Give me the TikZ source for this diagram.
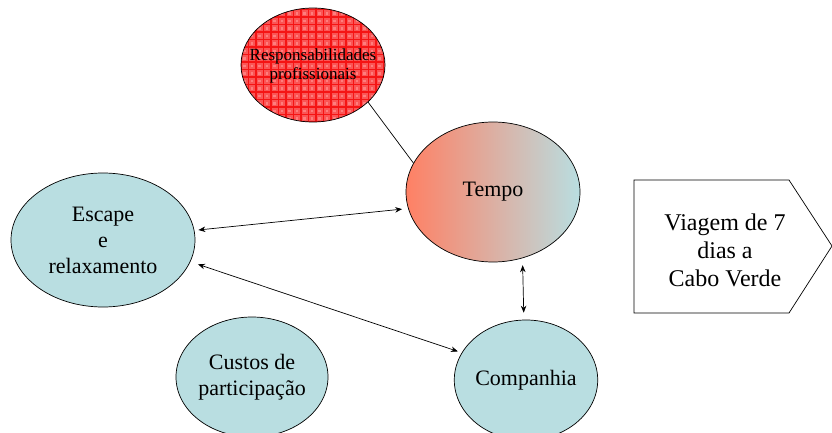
\documentclass[tikz,border=0pt]{standalone}
\usepackage{fontspec}
\setmainfont{Liberation Serif}
\usetikzlibrary{shapes.geometric,arrows.meta}
\definecolor{lblue}{RGB}{185,222,225}
\definecolor{salmon}{RGB}{255,128,100}
\definecolor{rbase}{RGB}{250,85,85}
\definecolor{rpink}{RGB}{255,125,125}
\definecolor{rline}{RGB}{245,20,20}
\begin{document}
\begin{tikzpicture}[x=1pt,y=-1pt,
  oval/.style={ellipse,draw=black,line width=0.7pt,inner sep=0pt,align=center,
    font=\fontsize{22}{26}\selectfont},
  conn/.style={line width=0.7pt,{Stealth[length=7pt,width=5.5pt]}-{Stealth[length=7pt,width=5.5pt]}},
  plainline/.style={line width=0.7pt}]
\useasboundingbox (0,0) rectangle (832,433);
\node[oval,minimum width=144pt,minimum height=114pt,fill=rbase,
  font=\fontsize{17}{19}\selectfont,
  path picture={
    \foreach \i in {0,...,21}{
      \foreach \j in {0,...,17}{
        \fill[rpink] ([xshift=\i*7.5pt+2pt,yshift=\j*7.5pt+2pt]path picture bounding box.south west) rectangle ++(2.5pt,2.5pt);
      }
    }
    \foreach \i in {0,...,21}{
      \draw[rline,line width=1.2pt] ([xshift=\i*7.5pt]path picture bounding box.south west) -- ++(0pt,130pt);
    }
    \foreach \j in {0,...,17}{
      \draw[rline,line width=1.2pt] ([yshift=\j*7.5pt]path picture bounding box.south west) -- ++(160pt,0pt);
    }
  }] (resp) at (313,65) {};
\node[align=center,font=\fontsize{17}{19}\selectfont,inner sep=0pt] (resptext) at (313,66) {Responsabilidades\\profissionais};
\node[oval,minimum width=174pt,minimum height=140pt,left color=salmon,right color=lblue] (tempo) at (493,192) {Tempo};
\node[oval,minimum width=184pt,minimum height=134pt,fill=lblue] (escape) at (103,240) {Escape\\e\\relaxamento};
\node[oval,minimum width=144pt,minimum height=120pt,fill=lblue] (custos) at (252,377) {Custos de\\participação};
\node[oval,minimum width=138pt,minimum height=120pt,fill=lblue] (companhia) at (526,380) {Companhia};
\draw[line width=0.7pt] (634,180) -- (789,180) -- (832,246) -- (789,313) -- (634,313) -- cycle;
\node[align=center,font=\fontsize{24}{28}\selectfont,inner sep=0pt] (viagem) at (725,250) {Viagem de 7\\dias a\\Cabo Verde};
\draw[plainline] (resp.-34) -- (tempo.160);
\draw[conn,shorten <=4pt,shorten >=6pt] (escape.6) -- (tempo.191);
\draw[conn,shorten <=8pt,shorten >=4pt] (escape.-14) -- (companhia.157);
\draw[conn,shorten <=7pt,shorten >=7pt] (tempo.-66) -- (companhia.92);
\end{tikzpicture}
\end{document}
